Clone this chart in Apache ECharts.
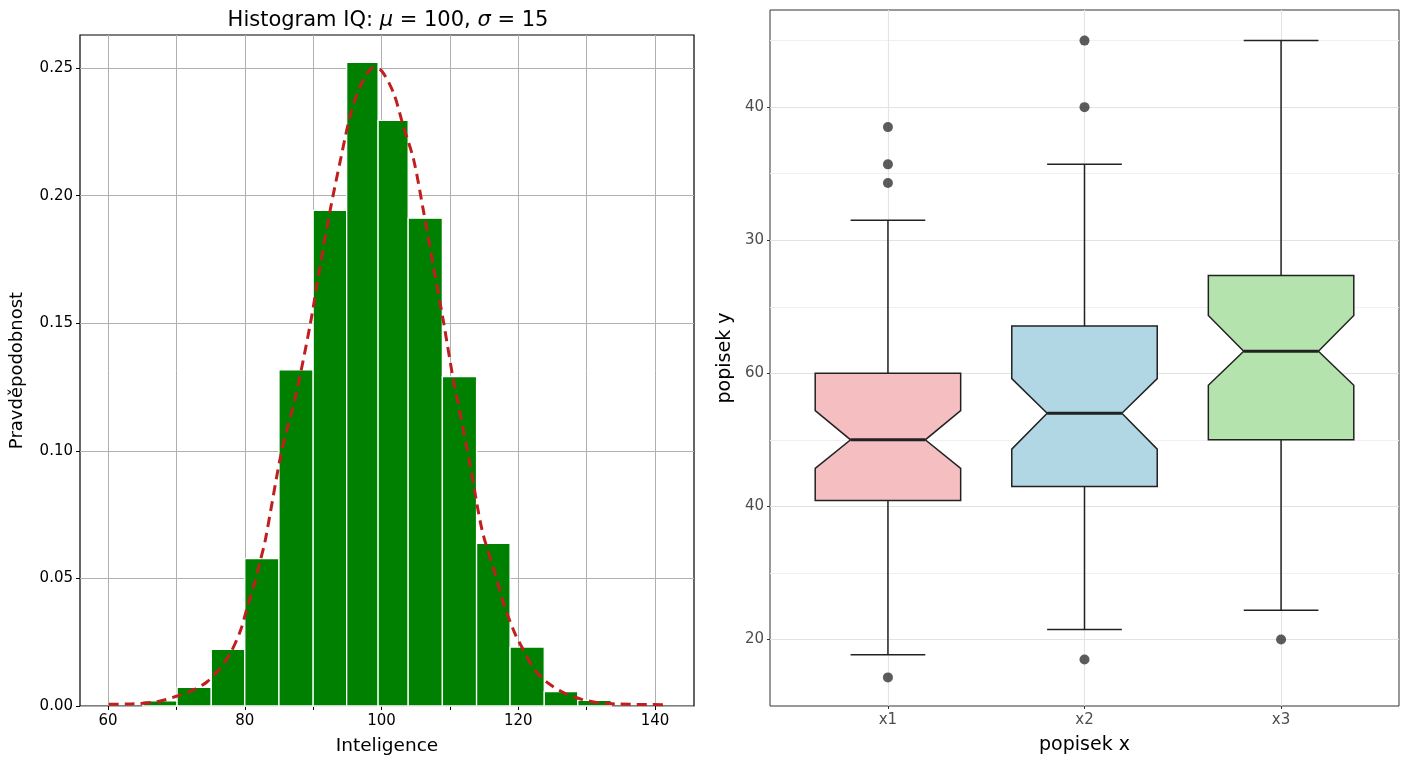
<!DOCTYPE html>
<html><head><meta charset="utf-8">
<script src="https://cdn.jsdelivr.net/npm/echarts@6/dist/echarts.min.js"></script>
<style>html,body{margin:0;padding:0;background:#fff}#c{width:1408px;height:768px}</style>
</head><body><div id="c"></div>
<script>
// ---- Left chart: histogram data ----
const histEdges = [65.1, 70.1, 75.1, 80.0, 85.0, 90.0, 94.9, 99.5, 103.9, 108.9, 113.9, 118.8, 123.8, 128.7, 133.6];
const histHeights = [0.0020, 0.0073, 0.0222, 0.0578, 0.1318, 0.1943, 0.2523, 0.2295, 0.1912, 0.1291, 0.0638, 0.0231, 0.0056, 0.0022];
const pdfX = [60.1, 63.3, 67.2, 70.1, 72.5, 74.5, 76.4, 77.9, 79.4, 80.4, 81.3, 82.3, 83.0, 85.4, 87.4, 89.6, 91.0, 92.5, 94.0, 95.4, 96.9, 98.8, 100.0, 101.75, 103.2, 104.7, 106.1, 107.6, 109.1, 110.5, 111.1, 113.0, 114.7, 116.6, 118.0, 119.5, 121.0, 122.4, 124.4, 126.8, 129.3, 131.7, 134.2, 141.3];
const pdfY = [0.0007, 0.0008, 0.0017, 0.0039, 0.0063, 0.0095, 0.0148, 0.0207, 0.0298, 0.039, 0.0468, 0.0573, 0.065, 0.100, 0.121, 0.150, 0.1723, 0.1945, 0.2141, 0.2311, 0.2429, 0.2501, 0.2490, 0.2403, 0.2272, 0.2141, 0.1945, 0.1723, 0.150, 0.1278, 0.120, 0.0938, 0.069, 0.052, 0.039, 0.0285, 0.0207, 0.0141, 0.0089, 0.005, 0.0026, 0.0013, 0.0008, 0.0005];
const histXGrid = [60, 70, 80, 90, 100, 110, 120, 130, 140];
const histXTicks = [60, 80, 100, 120, 140];
const histYTicks = [0, 0.05, 0.10, 0.15, 0.20, 0.25];

// ---- Right chart: notched boxplot data ----
const boxCategories = ['x1', 'x2', 'x3'];
const whiskerLow  = [17.7, 21.5, 24.4];
const q1          = [40.9, 43.0, 50.0];
const notchLow    = [45.7, 48.6, 58.2];
const median      = [50.0, 54.0, 63.3];
const notchHigh   = [54.4, 59.2, 68.7];
const q3          = [60.0, 67.1, 74.7];
const whiskerHigh = [83.0, 91.4, 110.0];
const outliersX1 = [97.0, 91.4, 88.6, 14.3];
const outliersX2 = [110.0, 100.0, 17.0];
const outliersX3 = [20.0];
const boxYGrid = [20, 30, 40, 50, 60, 70, 80, 90, 100, 110];
const boxYTickValues = [20, 40, 60, 80, 100];
const boxYTickLabels = ['20', '40', '60', '30', '40'];
const boxColors = ['#f5bec1', '#b1d7e5', '#b5e3ad'];

const FONT = 'DejaVu Sans';
const chart = echarts.init(document.getElementById('c'));

const outlierData = [];
[outliersX1, outliersX2, outliersX3].forEach((arr, i) => arr.forEach(v => outlierData.push([i + 1, v])));

const HW = 0.37, NW = 0.19, CW = 0.19;

const option = {
  animation: false,
  backgroundColor: '#ffffff',
  title: {
    text: '{a|Histogram IQ: }{i|μ}{a| = 100, }{i|σ}{a| = 15}',
    left: 383, top: 5, textAlign: 'center',
    textStyle: {
      fontWeight: 'normal',
      rich: {
        a: { fontFamily: FONT, fontSize: 21, fontWeight: 'normal', color: '#000' },
        i: { fontFamily: FONT, fontSize: 21, fontWeight: 'normal', fontStyle: 'italic', color: '#000' }
      }
    }
  },
  grid: [
    { left: 80, right: 714, top: 35, bottom: 62, show: true, borderColor: '#000', borderWidth: 1.2 },
    { left: 770, right: 9, top: 10, bottom: 62, show: true, borderColor: '#333', borderWidth: 1 }
  ],
  xAxis: [
    {
      gridIndex: 0, type: 'value', min: 55.9, max: 145.7,
      axisLine: { show: false },
      axisTick: { customValues: histXGrid, length: 4, lineStyle: { color: '#000' } },
      axisLabel: { customValues: histXTicks, formatter: v => String(v), fontFamily: FONT, fontSize: 15, color: '#000', margin: 8 },
      splitLine: { show: true, lineStyle: { color: '#b0b0b0', width: 1 } },
      name: 'Inteligence', nameLocation: 'middle', nameGap: 31,
      nameTextStyle: { fontFamily: FONT, fontSize: 18.5, color: '#000' }
    },
    {
      gridIndex: 1, type: 'value', min: 0.4, max: 3.6,
      axisLine: { show: false },
      axisTick: { customValues: [1, 2, 3], length: 3, lineStyle: { color: '#333' } },
      axisLabel: { customValues: [1, 2, 3], formatter: v => boxCategories[Math.round(v) - 1], fontFamily: FONT, fontSize: 15, color: '#4d4d4d', margin: 7 },
      splitLine: { show: true, lineStyle: { color: '#e4e4e4', width: 1.2 } },
      name: 'popisek x', nameLocation: 'middle', nameGap: 30,
      nameTextStyle: { fontFamily: FONT, fontSize: 19, color: '#000' }
    }
  ],
  yAxis: [
    {
      gridIndex: 0, type: 'value', min: 0, max: 0.263,
      axisLine: { show: false },
      axisTick: { customValues: histYTicks, length: 4, lineStyle: { color: '#000' } },
      axisLabel: { customValues: histYTicks, formatter: v => v.toFixed(2), fontFamily: FONT, fontSize: 15, color: '#000', margin: 7 },
      splitLine: { show: true, lineStyle: { color: '#b0b0b0', width: 1 } },
      name: 'Pravděpodobnost', nameLocation: 'middle', nameGap: 54,
      nameTextStyle: { fontFamily: FONT, fontSize: 18, color: '#000' }
    },
    {
      gridIndex: 1, type: 'value', min: 10, max: 114.6, position: 'left',
      axisLine: { show: false },
      axisTick: { show: false, customValues: boxYGrid },
      axisLabel: { show: false },
      splitLine: { show: true, lineStyle: { color: ['#e2e2e2', '#f0f0f0'], width: 1.2 } }
    },
    {
      gridIndex: 1, type: 'value', min: 10, max: 114.6, position: 'left',
      axisLine: { show: false },
      axisTick: { customValues: boxYTickValues, length: 3, lineStyle: { color: '#333' } },
      axisLabel: {
        customValues: boxYTickValues,
        formatter: v => { const i = boxYTickValues.indexOf(Math.round(v)); return i >= 0 ? boxYTickLabels[i] : ''; },
        fontFamily: FONT, fontSize: 15, color: '#4d4d4d', margin: 6
      },
      splitLine: { show: false },
      name: 'popisek y', nameLocation: 'middle', nameGap: 35,
      nameTextStyle: { fontFamily: FONT, fontSize: 19, color: '#000' }
    }
  ],
  series: [
    {
      type: 'custom', xAxisIndex: 0, yAxisIndex: 0, z: 2,
      data: histHeights.map((h, i) => [histEdges[i], histEdges[i + 1], h]),
      encode: { x: [0, 1], y: 2 },
      renderItem: (params, api) => {
        const a = api.coord([api.value(0), api.value(2)]);
        const b = api.coord([api.value(1), 0]);
        return {
          type: 'rect',
          shape: { x: a[0], y: a[1], width: b[0] - a[0], height: b[1] - a[1] },
          style: { fill: '#008000', stroke: '#ffffff', lineWidth: 1.3 }
        };
      }
    },
    {
      type: 'line', xAxisIndex: 0, yAxisIndex: 0, z: 5,
      data: pdfX.map((x, i) => [x, pdfY[i]]),
      showSymbol: false, smooth: 0.3,
      lineStyle: { color: '#c01f1f', width: 3, type: [10, 6] }
    },
    {
      type: 'custom', xAxisIndex: 1, yAxisIndex: 1, z: 3,
      data: boxCategories.map((c, i) => [i + 1, whiskerLow[i], q1[i], notchLow[i], median[i], notchHigh[i], q3[i], whiskerHigh[i]]),
      encode: { x: 0, y: [1, 7] },
      renderItem: (params, api) => {
        const x = api.value(0);
        const lo = api.value(1), b1 = api.value(2), nl = api.value(3), md = api.value(4), nh = api.value(5), b3 = api.value(6), hi = api.value(7);
        const c = (dx, v) => api.coord([x + dx, v]);
        const stroke = '#222222';
        const poly = [c(-HW, b3), c(HW, b3), c(HW, nh), c(NW, md), c(HW, nl), c(HW, b1), c(-HW, b1), c(-HW, nl), c(-NW, md), c(-HW, nh)];
        return {
          type: 'group',
          children: [
            { type: 'line', shape: { x1: c(0, b3)[0], y1: c(0, b3)[1], x2: c(0, hi)[0], y2: c(0, hi)[1] }, style: { stroke, lineWidth: 1.5 } },
            { type: 'line', shape: { x1: c(0, b1)[0], y1: c(0, b1)[1], x2: c(0, lo)[0], y2: c(0, lo)[1] }, style: { stroke, lineWidth: 1.5 } },
            { type: 'line', shape: { x1: c(-CW, hi)[0], y1: c(-CW, hi)[1], x2: c(CW, hi)[0], y2: c(CW, hi)[1] }, style: { stroke, lineWidth: 1.5 } },
            { type: 'line', shape: { x1: c(-CW, lo)[0], y1: c(-CW, lo)[1], x2: c(CW, lo)[0], y2: c(CW, lo)[1] }, style: { stroke, lineWidth: 1.5 } },
            { type: 'polygon', shape: { points: poly }, style: { fill: boxColors[params.dataIndex], stroke, lineWidth: 1.5 } },
            { type: 'line', shape: { x1: c(-NW, md)[0], y1: c(-NW, md)[1], x2: c(NW, md)[0], y2: c(NW, md)[1] }, style: { stroke, lineWidth: 3 } }
          ]
        };
      }
    },
    {
      type: 'scatter', xAxisIndex: 1, yAxisIndex: 1, z: 4,
      data: outlierData, symbolSize: 10,
      itemStyle: { color: '#333333' }
    }
  ]
};
chart.setOption(option);
</script>
</body></html>
